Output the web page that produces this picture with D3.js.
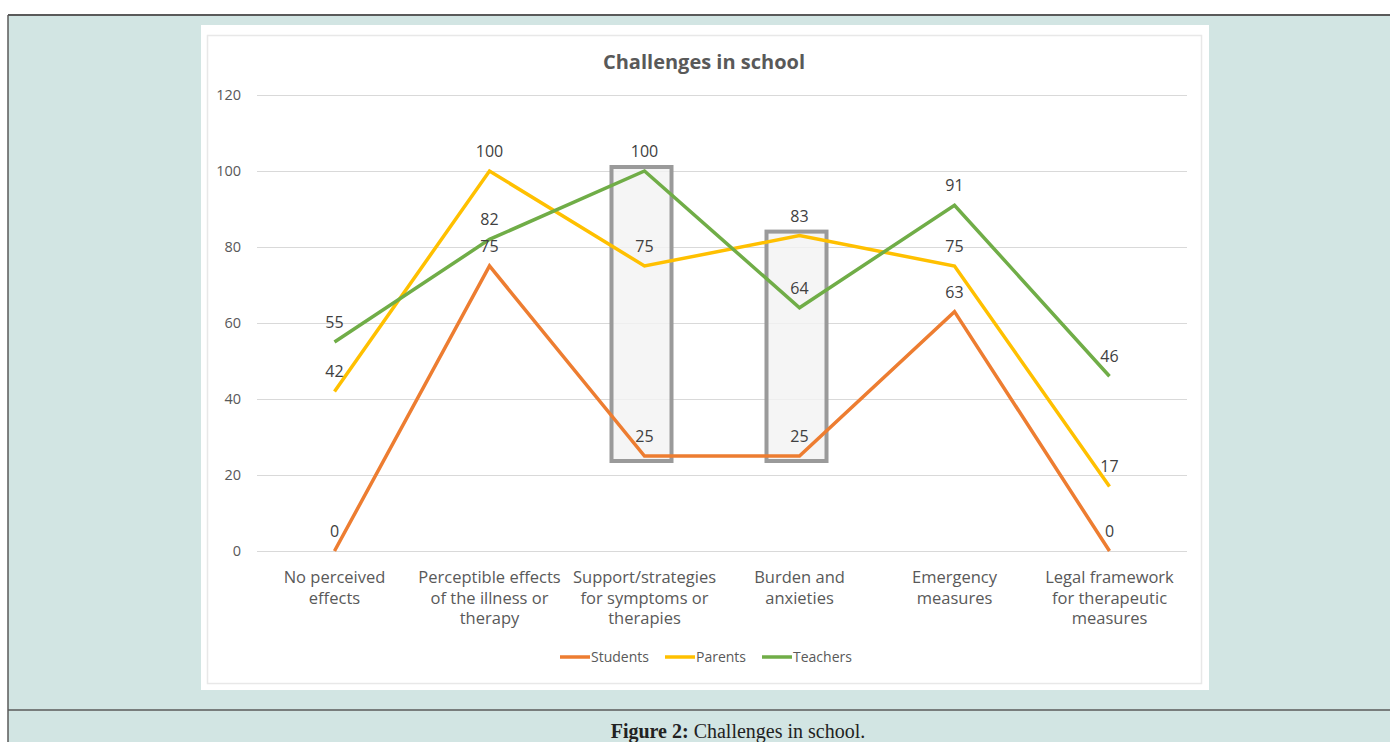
<!DOCTYPE html>
<html>
<head>
<meta charset="utf-8">
<script src="https://cdn.jsdelivr.net/npm/d3@7"></script>
<style>
  html, body { margin: 0; padding: 0; background: #ffffff; }
  svg { display: block; }
</style>
</head>
<body>
<svg id="fig" width="1390" height="742"></svg>
<script>
// Chart data
const categories = [
  ["No perceived", "effects"],
  ["Perceptible effects", "of the illness or", "therapy"],
  ["Support/strategies", "for symptoms or", "therapies"],
  ["Burden and", "anxieties"],
  ["Emergency", "measures"],
  ["Legal framework", "for therapeutic", "measures"]
];
const seriesNames = ["Students", "Parents", "Teachers"];
const students = [0, 75, 25, 25, 63, 0];
const parents  = [42, 100, 75, 83, 75, 17];
const teachers = [55, 82, 100, 64, 91, 46];
const yTicks = [0, 20, 40, 60, 80, 100, 120];
const highlighted = [2, 3]; // categories framed by grey boxes
const colors = ["#ed7d31", "#ffc000", "#70ad47"];

const series = [students, parents, teachers];
const svg = d3.select("#fig");
const FONT = "'Open Sans', 'Noto Sans', sans-serif";

// Page frame
svg.append("rect").attr("x", 8).attr("y", 15).attr("width", 1382).attr("height", 727).attr("fill", "#d2e5e3");
svg.append("line").attr("x1", 8).attr("x2", 1390).attr("y1", 15).attr("y2", 15).attr("stroke", "#5a5a5a").attr("stroke-width", 2);
svg.append("line").attr("x1", 8).attr("x2", 8).attr("y1", 15).attr("y2", 742).attr("stroke", "#5a5a5a").attr("stroke-width", 1.5);
svg.append("line").attr("x1", 8).attr("x2", 1390).attr("y1", 710).attr("y2", 710).attr("stroke", "#5a5a5a").attr("stroke-width", 1.5);

// Caption
const cap = svg.append("text").attr("x", 738).attr("y", 738).attr("text-anchor", "middle")
  .attr("font-family", "'Liberation Serif', 'DejaVu Serif', serif").attr("font-size", 20).attr("fill", "#222");
cap.append("tspan").attr("font-weight", "bold").text("Figure 2:");
cap.append("tspan").text(" Challenges in school.");

// Chart area
svg.append("rect").attr("x", 201).attr("y", 25).attr("width", 1008).attr("height", 665).attr("fill", "#ffffff");
svg.append("rect").attr("x", 207.5).attr("y", 35.5).attr("width", 994).attr("height", 648).attr("fill", "none")
  .attr("stroke", "#e8e8e8").attr("stroke-width", 1.5);

const x = d3.scaleBand().domain(d3.range(categories.length)).range([257, 1187]).padding(0);
const y = d3.scaleLinear().domain([0, 120]).range([551, 95]);
const cx = i => x(i) + x.bandwidth() / 2;

// Title
svg.append("text").attr("x", 704).attr("y", 69).attr("text-anchor", "middle")
  .attr("font-family", FONT).attr("font-weight", "bold").attr("font-size", 20).attr("fill", "#595959")
  .text("Challenges in school");

// Gridlines and y axis
const yAxis = d3.axisLeft(y).tickValues(yTicks).tickSize(-(1187 - 257)).tickPadding(16);
const gy = svg.append("g").attr("transform", "translate(257,0)").call(yAxis);
gy.select(".domain").remove();
gy.selectAll(".tick line").attr("stroke", "#d9d9d9").attr("stroke-width", 1.2);
gy.selectAll(".tick text").attr("font-family", FONT).attr("font-size", 14.5).attr("fill", "#595959");

// Category labels
const xAxis = d3.axisBottom(x).tickSize(0).tickFormat(() => "");
const gx = svg.append("g").attr("transform", "translate(0,551)").call(xAxis);
gx.select(".domain").remove();
gx.selectAll(".tick").each(function(d) {
  const t = d3.select(this).append("text").attr("text-anchor", "middle")
    .attr("font-family", FONT).attr("font-size", 16.5).attr("fill", "#595959");
  categories[d].forEach((ln, k) => {
    t.append("tspan").attr("x", 0).attr("y", 32 + k * 20.5).text(ln);
  });
});

// Highlight boxes around selected categories
highlighted.forEach(i => {
  const vals = series.map(s => s[i]);
  const top = y(d3.max(vals)) - 4;
  const bot = y(d3.min(vals)) + 5;
  svg.append("rect").attr("x", cx(i) - 33).attr("y", top).attr("width", 60).attr("height", bot - top)
    .attr("fill", "#f2f2f2").attr("fill-opacity", 0.8)
    .attr("stroke", "#9a9a9a").attr("stroke-width", 4);
});

// Lines
const line = d3.line().x((d, i) => cx(i)).y(d => y(d));
series.forEach((s, k) => {
  svg.append("path").datum(s).attr("d", line).attr("fill", "none")
    .attr("stroke", colors[k]).attr("stroke-width", 3.5).attr("stroke-linejoin", "miter");
});

// Data labels above points
series.forEach((s, k) => {
  svg.append("g").selectAll("text").data(s).join("text")
    .attr("x", (d, i) => cx(i)).attr("y", d => y(d) - 14)
    .attr("text-anchor", "middle").attr("font-family", FONT).attr("font-size", 16).attr("fill", "#404040")
    .text(d => d);
});

// Legend
const legendX = [560, 665, 762];
seriesNames.forEach((n, k) => {
  const g = svg.append("g").attr("transform", `translate(${legendX[k]},657)`);
  g.append("line").attr("x1", 0).attr("x2", 30).attr("stroke", colors[k]).attr("stroke-width", 3.5);
  g.append("text").attr("x", 31).attr("y", 5).attr("font-family", FONT).attr("font-size", 14).attr("fill", "#595959").text(n);
});
</script>
</body>
</html>
